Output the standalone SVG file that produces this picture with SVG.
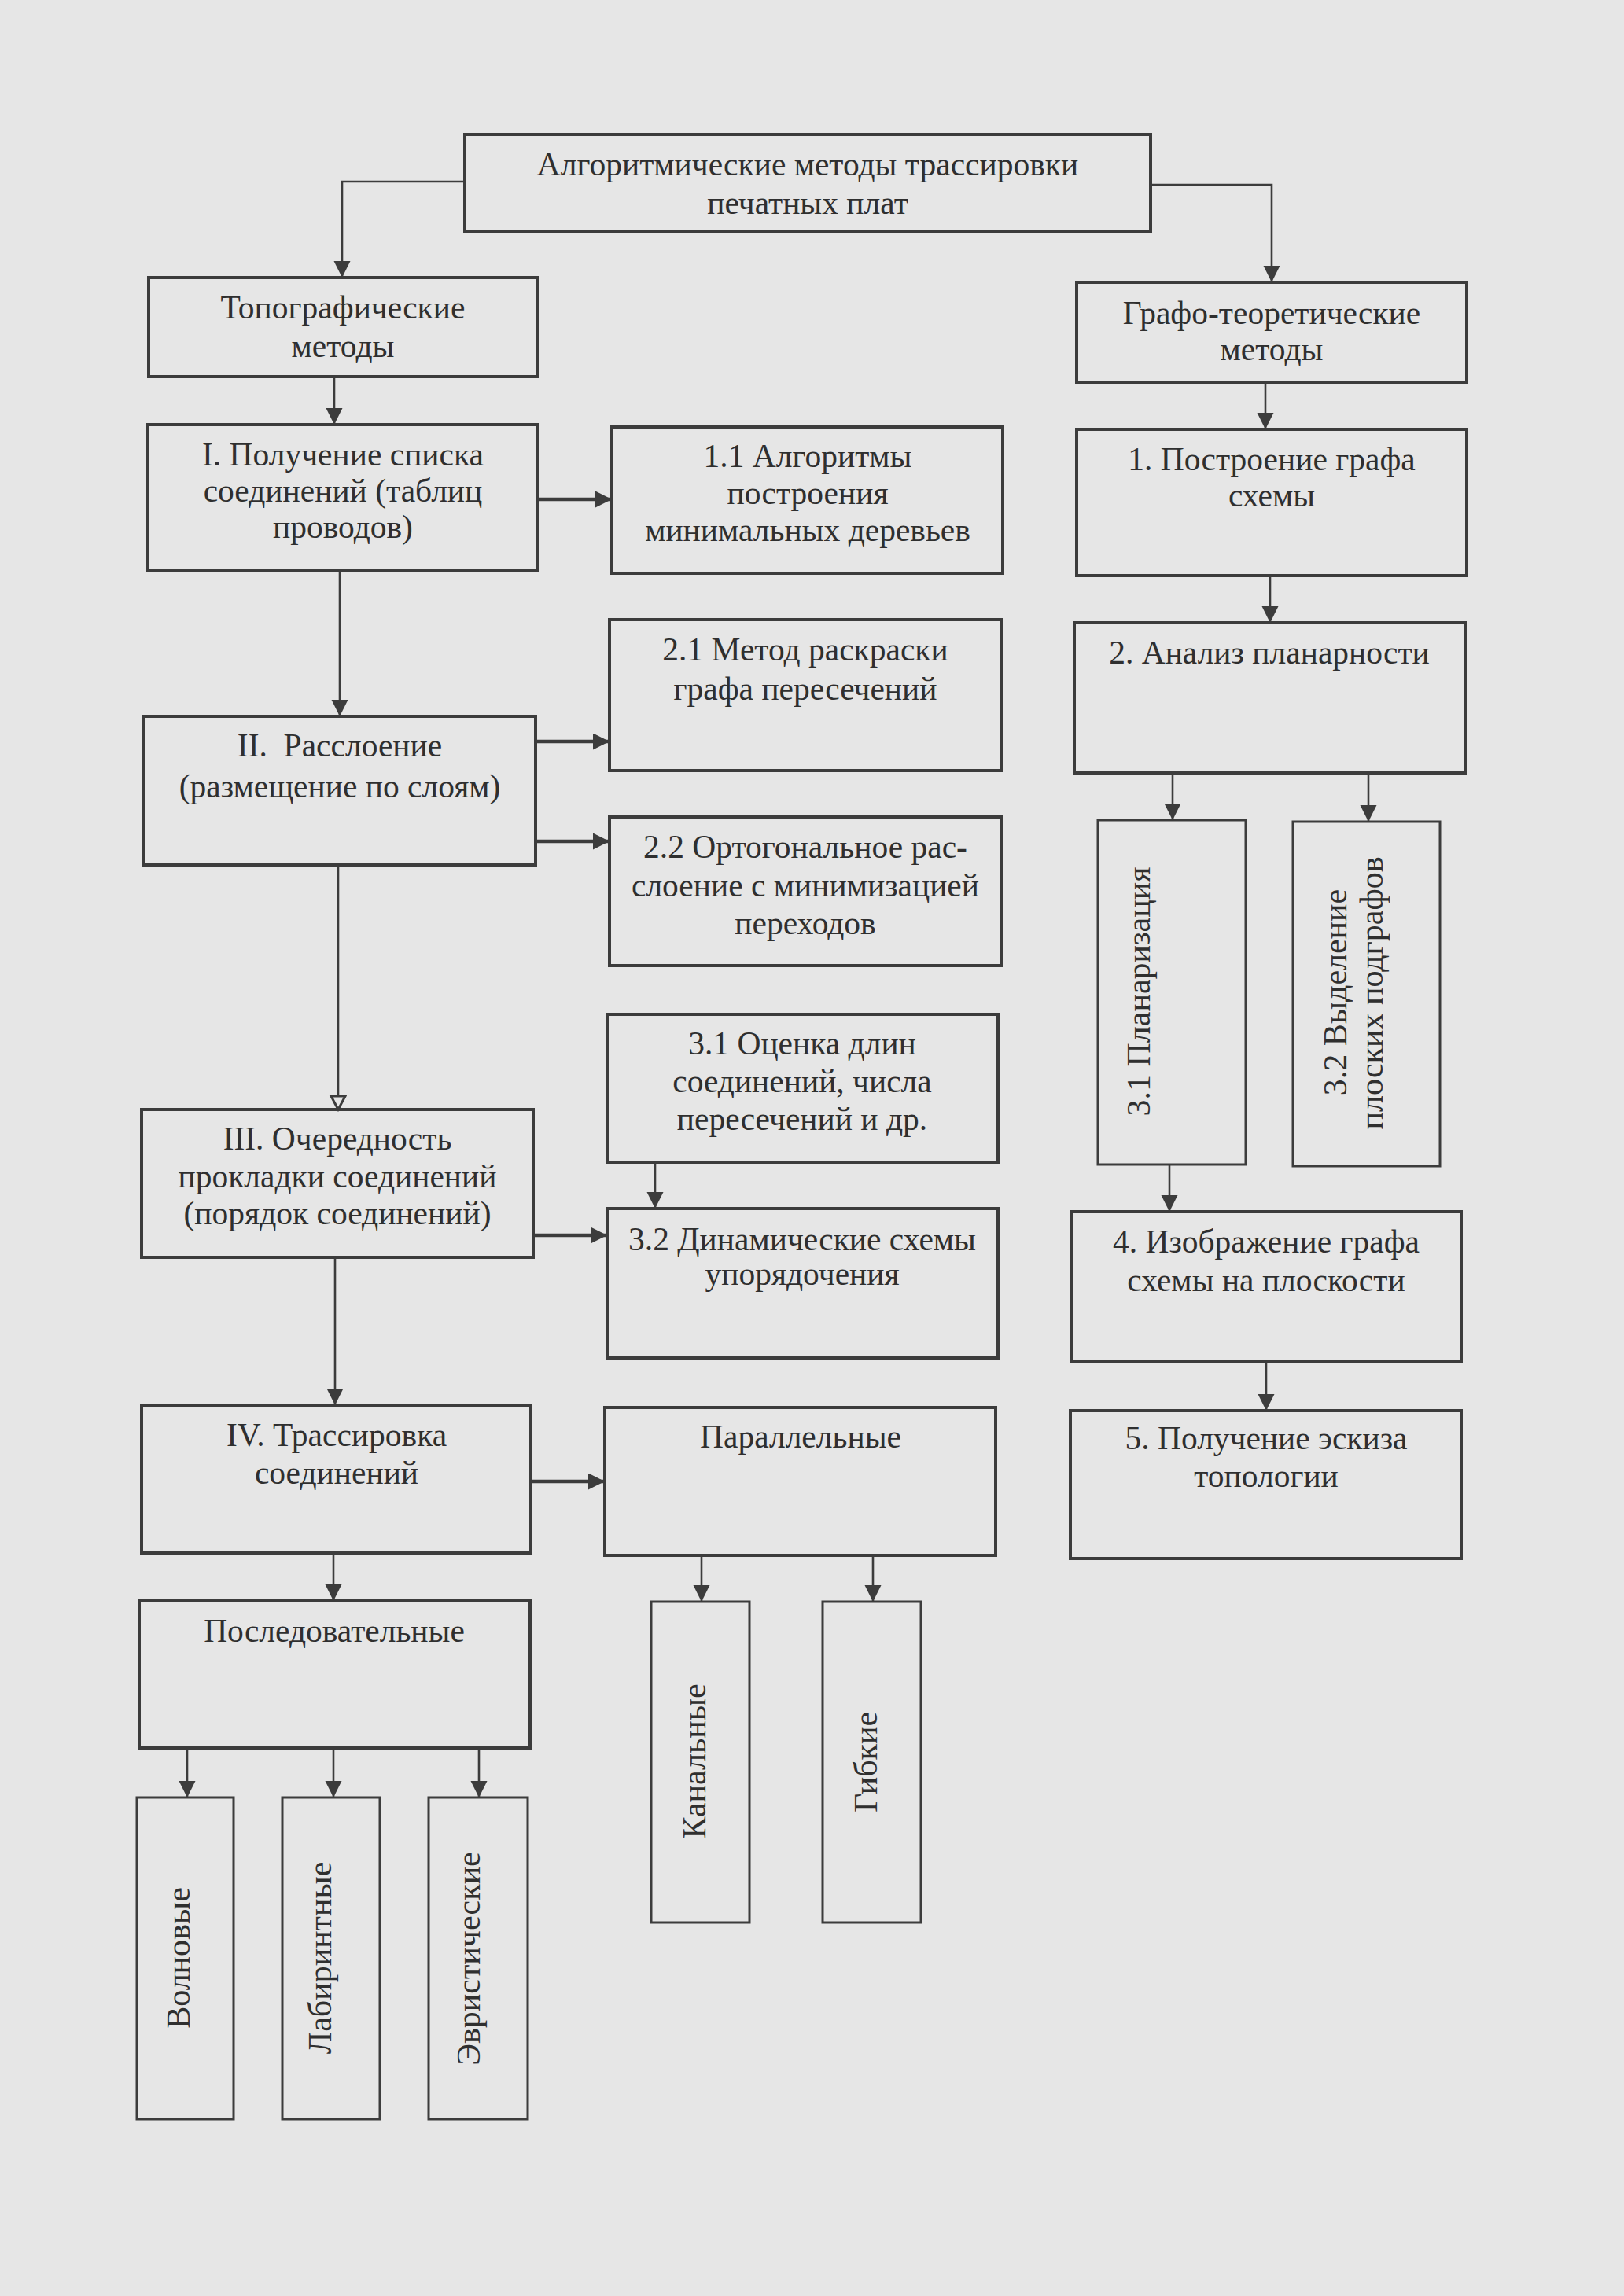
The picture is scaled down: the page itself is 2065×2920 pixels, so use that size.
<svg xmlns="http://www.w3.org/2000/svg" width="2065" height="2920" viewBox="0 0 2065 2920">
<style>
.bx{fill:none;stroke:#3c3c3c;stroke-width:4}
.bn{fill:none;stroke:#3c3c3c;stroke-width:3}
.t{font-family:"Liberation Serif","Times New Roman",serif;font-size:41.5px;fill:#2f2f2f;text-anchor:middle}
.v{font-family:"Liberation Serif","Times New Roman",serif;font-size:42px;fill:#2f2f2f;text-anchor:middle}
.c{fill:none;stroke:#3c3c3c;stroke-width:2.6}
.k{fill:none;stroke:#3c3c3c;stroke-width:4.5}
</style>
<defs>
<marker id="ah" markerUnits="userSpaceOnUse" markerWidth="22" markerHeight="22" refX="21" refY="10.5" orient="auto" viewBox="0 0 22 22">
<path d="M0,0 L21,10.5 L0,21 z" fill="#3c3c3c"/>
</marker>
<marker id="ao" markerUnits="userSpaceOnUse" markerWidth="22" markerHeight="24" refX="19" refY="11" orient="auto" viewBox="0 0 22 24">
<path d="M2,2 L19,11 L2,20 z" fill="#e6e6e6" stroke="#3c3c3c" stroke-width="3"/>
</marker>
</defs>
<rect x="0" y="0" width="2065" height="2920" fill="#e6e6e6"/>

<g id="connectors">
<path class="c" d="M591,231 H435 V353" marker-end="url(#ah)"/>
<path class="c" d="M1463,235 H1617 V359" marker-end="url(#ah)"/>
<path class="c" d="M425,479 V540" marker-end="url(#ah)"/>
<path class="k" d="M683,635 H778" marker-end="url(#ah)"/>
<path class="c" d="M1609,486 V546" marker-end="url(#ah)"/>
<path class="c" d="M432,726 V911" marker-end="url(#ah)"/>
<path class="k" d="M681,943 H775" marker-end="url(#ah)"/>
<path class="k" d="M681,1070 H775" marker-end="url(#ah)"/>
<path class="c" d="M1615,732 V792" marker-end="url(#ah)"/>
<path class="c" d="M1491,983 V1043" marker-end="url(#ah)"/>
<path class="c" d="M1740,983 V1045" marker-end="url(#ah)"/>
<path class="c" d="M430,1100 V1411" marker-end="url(#ao)"/>
<path class="c" d="M833,1478 V1537" marker-end="url(#ah)"/>
<path class="k" d="M678,1571 H772" marker-end="url(#ah)"/>
<path class="c" d="M1487,1481 V1541" marker-end="url(#ah)"/>
<path class="c" d="M1610,1731 V1794" marker-end="url(#ah)"/>
<path class="c" d="M426,1599 V1787" marker-end="url(#ah)"/>
<path class="k" d="M675,1884 H769" marker-end="url(#ah)"/>
<path class="c" d="M424,1974 V2036" marker-end="url(#ah)"/>
<path class="c" d="M238,2223 V2286" marker-end="url(#ah)"/>
<path class="c" d="M424,2223 V2286" marker-end="url(#ah)"/>
<path class="c" d="M609,2223 V2286" marker-end="url(#ah)"/>
<path class="c" d="M892,1977 V2037" marker-end="url(#ah)"/>
<path class="c" d="M1110,1977 V2037" marker-end="url(#ah)"/>
</g>

<g id="n-root">
<rect class="bx" x="591" y="171" width="872" height="123"/>
<text class="t" x="1027" y="223">Алгоритмические методы трассировки</text>
<text class="t" x="1027" y="272">печатных плат</text>
</g>
<g id="n-topo">
<rect class="bx" x="189" y="353" width="494" height="126"/>
<text class="t" x="436" y="405">Топографические</text>
<text class="t" x="436" y="454">методы</text>
</g>
<g id="n-graph">
<rect class="bx" x="1369" y="359" width="496" height="127"/>
<text class="t" x="1617" y="412">Графо-теоретические</text>
<text class="t" x="1617" y="458">методы</text>
</g>
<g id="n-I">
<rect class="bx" x="188" y="540" width="495" height="186"/>
<text class="t" x="436" y="592">I. Получение списка</text>
<text class="t" x="436" y="638">соединений (таблиц</text>
<text class="t" x="436" y="684">проводов)</text>
</g>
<g id="n-1-1">
<rect class="bx" x="778" y="543" width="497" height="186"/>
<text class="t" x="1027" y="594">1.1 Алгоритмы</text>
<text class="t" x="1027" y="641">построения</text>
<text class="t" x="1027" y="688">минимальных деревьев</text>
</g>
<g id="n-g1">
<rect class="bx" x="1369" y="546" width="496" height="186"/>
<text class="t" x="1617" y="598">1. Построение графа</text>
<text class="t" x="1617" y="644">схемы</text>
</g>
<g id="n-2-1">
<rect class="bx" x="775" y="788" width="498" height="192"/>
<text class="t" x="1024" y="840">2.1 Метод раскраски</text>
<text class="t" x="1024" y="890">графа пересечений</text>
</g>
<g id="n-g2">
<rect class="bx" x="1366" y="792" width="497" height="191"/>
<text class="t" x="1614" y="844">2. Анализ планарности</text>
</g>
<g id="n-II">
<rect class="bx" x="183" y="911" width="498" height="189"/>
<text class="t" x="432" y="962" xml:space="preserve">II.  Расслоение</text>
<text class="t" x="432" y="1014">(размещение по слоям)</text>
</g>
<g id="n-2-2">
<rect class="bx" x="775" y="1039" width="498" height="189"/>
<text class="t" x="1024" y="1091">2.2 Ортогональное рас-</text>
<text class="t" x="1024" y="1140">слоение с минимизацией</text>
<text class="t" x="1024" y="1188">переходов</text>
</g>
<g id="n-g3-1">
<rect class="bn" x="1396" y="1043" width="188" height="438"/>
<text class="v" transform="translate(1462,1261) rotate(-90)">3.1 Планаризация</text>
</g>
<g id="n-g3-2">
<rect class="bn" x="1644" y="1045" width="187" height="438"/>
<text class="v" transform="translate(1712,1262) rotate(-90)">3.2 Выделение</text>
<text class="v" transform="translate(1758,1263) rotate(-90)">плоских подграфов</text>
</g>
<g id="n-3-1">
<rect class="bx" x="772" y="1290" width="497" height="188"/>
<text class="t" x="1020" y="1341">3.1 Оценка длин</text>
<text class="t" x="1020" y="1389">соединений, числа</text>
<text class="t" x="1020" y="1437">пересечений и др.</text>
</g>
<g id="n-III">
<rect class="bx" x="180" y="1411" width="498" height="188"/>
<text class="t" x="429" y="1462">III. Очередность</text>
<text class="t" x="429" y="1510">прокладки соединений</text>
<text class="t" x="429" y="1557">(порядок соединений)</text>
</g>
<g id="n-3-2">
<rect class="bx" x="772" y="1537" width="497" height="190"/>
<text class="t" x="1020" y="1590">3.2 Динамические схемы</text>
<text class="t" x="1020" y="1634">упорядочения</text>
</g>
<g id="n-g4">
<rect class="bx" x="1363" y="1541" width="495" height="190"/>
<text class="t" x="1610" y="1593">4. Изображение графа</text>
<text class="t" x="1610" y="1642">схемы на плоскости</text>
</g>
<g id="n-IV">
<rect class="bx" x="180" y="1787" width="495" height="188"/>
<text class="t" x="428" y="1839">IV. Трассировка</text>
<text class="t" x="428" y="1887">соединений</text>
</g>
<g id="n-par">
<rect class="bx" x="769" y="1790" width="497" height="188"/>
<text class="t" x="1018" y="1841">Параллельные</text>
</g>
<g id="n-g5">
<rect class="bx" x="1361" y="1794" width="497" height="188"/>
<text class="t" x="1610" y="1843">5. Получение эскиза</text>
<text class="t" x="1610" y="1891">топологии</text>
</g>
<g id="n-posl">
<rect class="bx" x="177" y="2036" width="497" height="187"/>
<text class="t" x="425" y="2088">Последовательные</text>
</g>
<g id="n-voln">
<rect class="bn" x="174" y="2286" width="123" height="409"/>
<text class="v" transform="translate(241,2490) rotate(-90)">Волновые</text>
</g>
<g id="n-lab">
<rect class="bn" x="359" y="2286" width="124" height="409"/>
<text class="v" transform="translate(421,2490) rotate(-90)">Лабиринтные</text>
</g>
<g id="n-evr">
<rect class="bn" x="545" y="2286" width="126" height="409"/>
<text class="v" transform="translate(610,2491) rotate(-90)">Эвристические</text>
</g>
<g id="n-kan">
<rect class="bn" x="828" y="2037" width="125" height="408"/>
<text class="v" transform="translate(897,2240) rotate(-90)">Канальные</text>
</g>
<g id="n-gib">
<rect class="bn" x="1046" y="2037" width="125" height="408"/>
<text class="v" transform="translate(1115,2241) rotate(-90)">Гибкие</text>
</g>
</svg>
